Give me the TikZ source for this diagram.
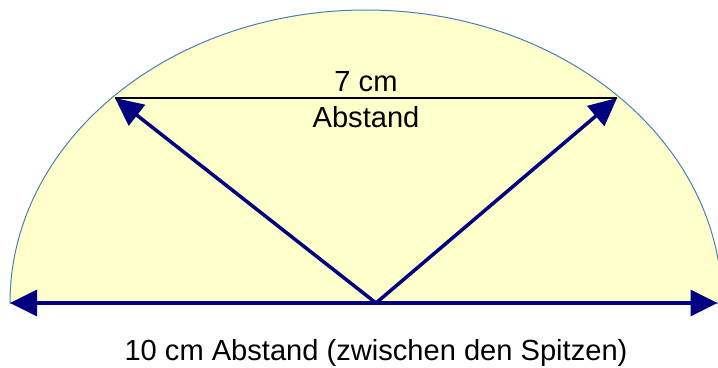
\documentclass[tikz,border=0pt]{standalone}
\usepackage{fontspec}
\setmainfont{Liberation Sans}
\usetikzlibrary{arrows.meta,positioning}
\definecolor{bowlfill}{HTML}{FFFFCC}
\definecolor{bowlline}{HTML}{4A7EBB}
\definecolor{arrownavy}{HTML}{000080}
\tikzset{
  bowlarc/.style={draw=bowlline,fill=bowlfill,line width=1bp},
  spanarrow/.style={{Triangle[length=27bp,width=26bp]}-{Triangle[length=27bp,width=26bp]},draw=arrownavy,line width=3.5bp},
  legarrow/.style={-{Triangle[length=28bp,width=26bp]},draw=arrownavy,line width=3.5bp},
  gapline/.style={draw=black,line width=2bp},
  labeltext/.style={font=\fontsize{29.2}{33}\selectfont,inner sep=2bp,align=center}
}
\begin{document}
\begin{tikzpicture}[x=1bp,y=1bp]
  \useasboundingbox (0,0) rectangle (718,367);
  % half ellipse
  \path[bowlarc] (10,64) arc[start angle=180,end angle=0,x radius=356,y radius=293] -- cycle;
  \coordinate (left) at (10,64);
  \coordinate (right) at (717.5,64);
  \coordinate (apex) at (376,64);
  \coordinate (tipl) at (115,269);
  \coordinate (tipr) at (617,269);
  \draw[spanarrow] (left) -- (right);
  \draw[legarrow] (apex) -- (tipl);
  \draw[legarrow] (apex) -- (tipr);
  \draw[gapline] (tipl) -- node[labeltext,above=3bp] (gapcm) {7 cm} node[labeltext,below=5bp] (gapword) {Abstand} (tipr);
  \node[labeltext,below=34bp of apex] (spanlabel) {10 cm Abstand (zwischen den Spitzen)};
\end{tikzpicture}
\end{document}
